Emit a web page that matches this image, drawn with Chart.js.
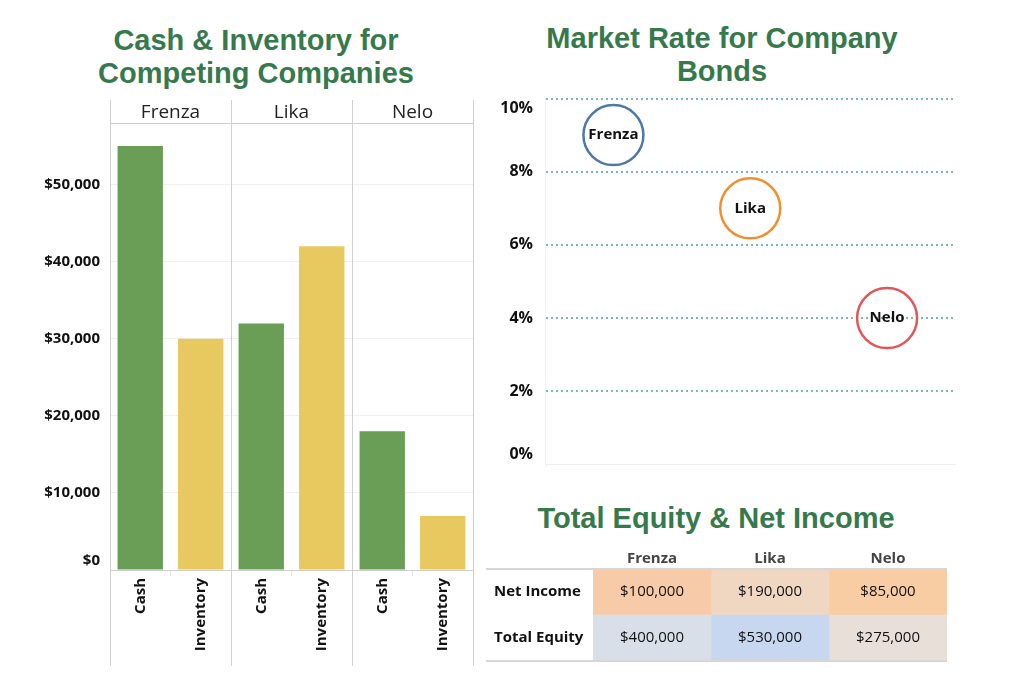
<!DOCTYPE html>
<html>
<head>
<meta charset="utf-8">
<script src="https://cdn.jsdelivr.net/npm/chart.js@4.4.1/dist/chart.umd.min.js"></script>
<style>
  body { margin:0; background:#fff; width:1024px; height:687px; position:relative; overflow:hidden; }
  .title { position:absolute; margin:0; text-align:center; color:#36794c;
           font:bold 29px "Liberation Sans", Arial, sans-serif; line-height:33px; }
  .box { position:absolute; }
</style>
</head>
<body>

<div class="title" style="left:56px; top:24px; width:400px;">Cash &amp; Inventory for<br>Competing Companies</div>
<div class="title" style="left:522px; top:22px; width:400px;">Market Rate for Company<br>Bonds</div>
<div class="title" style="left:516px; top:502px; width:400px;">Total Equity &amp; Net Income</div>

<div class="box" style="left:0; top:100px; width:485px; height:566px;"><canvas id="barChart"></canvas></div>
<div class="box" style="left:490px; top:66px; width:498px; height:431px;"><canvas id="rateChart"></canvas></div>
<div class="box" style="left:486px; top:543px; width:470px; height:122px;"><canvas id="tableChart"></canvas></div>

<script>
// === DATA === //
const companies = ["Frenza", "Lika", "Nelo"];
const measures = ["Cash", "Inventory"];
const cash = [55000, 32000, 18000];
const inventory = [30000, 42000, 7000];
const moneyTicks = [0, 10000, 20000, 30000, 40000, 50000];
const bondRate = [9, 7, 4];              // percent
const rows = ["Net Income", "Total Equity"];
const netIncome = [100000, 190000, 85000];
const totalEquity = [400000, 530000, 275000];

// ---- styles ---- //
const cashColor = "#6a9e57";
const invColor = "#e8c95f";
const bubbleColors = ["#4e79a7", "#f28e2b", "#e15759"];
const niColors = ["#f7cba7", "#f0d7c1", "#f8cda3"];
const teColors = ["#d9dfe9", "#c7d7ef", "#e8dfd9"];

Chart.defaults.font.family = '"Open Sans", sans-serif';
Chart.defaults.color = "#111";
Chart.defaults.animation = false;
Chart.defaults.plugins.legend.display = false;
Chart.defaults.plugins.tooltip.enabled = false;

const money = v => "$" + v.toLocaleString("en-US");

// edge labels sit inside the axis (like the original): pad with an empty line
const nudge = (text, v, min, max) => v === min ? [text, ""] : v === max ? ["", text] : text;

// ---- 1) Cash & Inventory bars ---- //
const dividers = {
  id: "dividers",
  afterDraw(chart) {
    const x = chart.scales.x, ctx = chart.ctx;
    const xs = [x.left];
    for (let i = 0; i < companies.length - 1; i++) {
      xs.push((x.getPixelForValue(i) + x.getPixelForValue(i + 1)) / 2);
    }
    xs.push(x.right);
    ctx.save();
    ctx.strokeStyle = "#d0d0d0";
    ctx.lineWidth = 1;
    xs.forEach(px => {
      const p = Math.round(px) + 0.5;
      ctx.beginPath(); ctx.moveTo(p, 0); ctx.lineTo(p, chart.height); ctx.stroke();
    });
    ctx.restore();
  }
};

new Chart(document.getElementById("barChart"), {
  type: "bar",
  data: {
    labels: companies,
    datasets: [
      { label: measures[0], data: cash, backgroundColor: cashColor, categoryPercentage: 1, barPercentage: 0.75 },
      { label: measures[1], data: inventory, backgroundColor: invColor, categoryPercentage: 1, barPercentage: 0.75 }
    ]
  },
  options: {
    responsive: true,
    maintainAspectRatio: false,
    layout: { padding: { left: 0, right: 12, top: 0, bottom: 0 } },
    scales: {
      x: {
        position: "top",
        grid: { display: false, drawTicks: false },
        border: { color: "#cfcfcf" },
        ticks: { font: { size: 19 }, color: "#222", padding: -1 },
        afterFit(s) { s.height = 23; }
      },
      x2: {
        type: "category",
        position: "bottom",
        labels: companies.flatMap(() => measures),
        offset: true,
        grid: {
          offset: true, drawOnChartArea: false, tickLength: 6,
          color: c => (c.index % 2 === 1 ? "#e4e4e4" : "rgba(0,0,0,0)")
        },
        border: { color: "#cfcfcf" },
        ticks: { minRotation: 90, maxRotation: 90, font: { size: 15, weight: "bold" }, color: "#111", padding: 2 },
        afterFit(s) { s.height = 96; }
      },
      y: {
        min: 0, max: 58000,
        grid: { color: "#f0f0f0", drawTicks: false },
        border: { display: false },
        afterBuildTicks(s) { s.ticks = moneyTicks.map(v => ({ value: v })); },
        ticks: { padding: 10, callback: v => nudge(money(v), v, 0, null),
                 font: { size: 15, weight: "bold" }, color: "#111" },
        afterFit(s) { s.width = 110; }
      }
    }
  },
  plugins: [dividers]
});

// ---- 2) Market rate bubbles ---- //
const bubbleLabels = {
  id: "bubbleLabels",
  afterDatasetsDraw(chart) {
    const ctx = chart.ctx;
    const meta = chart.getDatasetMeta(0);
    ctx.save();
    ctx.font = 'bold 15px "Open Sans", sans-serif';
    ctx.fillStyle = "#111";
    ctx.textAlign = "center";
    ctx.textBaseline = "middle";
    meta.data.forEach((el, i) => ctx.fillText(companies[i], el.x, el.y));
    ctx.restore();
  }
};

// the big points add ~32px of layout overflow on each side; the box is sized for that
new Chart(document.getElementById("rateChart"), {
  type: "scatter",
  data: {
    datasets: [{
      data: companies.map((c, i) => ({ x: c, y: bondRate[i] })),
      pointRadius: 30,
      pointHoverRadius: 30,
      pointBorderWidth: 2.5,
      pointBorderColor: bubbleColors,
      pointBackgroundColor: "rgba(255,255,255,0)"
    }]
  },
  options: {
    responsive: true,
    maintainAspectRatio: false,
    layout: { padding: 0 },
    scales: {
      x: {
        type: "category",
        labels: companies,
        offset: true,
        grid: { display: false },
        border: { color: "#eeeeee" },
        ticks: { display: false },
        afterFit(s) { s.height = 10; }
      },
      y: {
        min: 0, max: 10,
        grid: {
          drawTicks: false, lineWidth: 2,
          color: c => (c.tick && c.tick.value === 0 ? "rgba(0,0,0,0)" : "#7cb8b3")
        },
        border: { color: "#f0f0f0", dash: [2, 3] },
        ticks: { stepSize: 2, padding: 12, callback: v => nudge(v + "%", v, 0, 10),
                 font: { size: 16, weight: "bold" }, color: "#111" },
        afterFit(s) { s.width = 55; }
      }
    }
  },
  plugins: [bubbleLabels]
});

// ---- 3) Total Equity & Net Income table ---- //
const tableValues = [netIncome, totalEquity];

const tableText = {
  id: "tableText",
  afterDatasetsDraw(chart) {
    const ctx = chart.ctx, area = chart.chartArea;
    ctx.save();
    ctx.font = '15px "Open Sans", sans-serif';
    ctx.fillStyle = "#111";
    ctx.textAlign = "center";
    ctx.textBaseline = "middle";
    chart.data.datasets.forEach((ds, j) => {
      chart.getDatasetMeta(j).data.forEach((el, i) => {
        ctx.fillText(money(tableValues[i][j]), (el.x + el.base) / 2, el.y);
      });
    });
    ctx.strokeStyle = "#d6d6d6";
    ctx.lineWidth = 2;
    [area.top, area.bottom].forEach(y => {
      ctx.beginPath(); ctx.moveTo(0, y); ctx.lineTo(area.right, y); ctx.stroke();
    });
    ctx.restore();
  }
};

new Chart(document.getElementById("tableChart"), {
  type: "bar",
  data: {
    labels: rows,
    datasets: companies.map((c, j) => ({
      label: c,
      data: rows.map(() => [j, j + 1]),
      backgroundColor: [niColors[j], teColors[j]],
      borderWidth: 0,
      grouped: false,
      categoryPercentage: 1,
      barPercentage: 1
    }))
  },
  options: {
    indexAxis: "y",
    responsive: true,
    maintainAspectRatio: false,
    layout: { padding: { left: 8, right: 9, top: 0, bottom: 0 } },
    scales: {
      x: {
        min: 0, max: companies.length,
        grid: { display: false },
        border: { display: false },
        ticks: { display: false },
        afterFit(s) { s.height = 4; }
      },
      x2: {
        type: "category",
        position: "top",
        labels: companies,
        offset: true,
        grid: { display: false, drawTicks: false },
        border: { display: false },
        ticks: { font: { size: 15, weight: "bold" }, color: "#444", padding: 1 },
        afterFit(s) { s.height = 26; }
      },
      y: {
        grid: { display: false, drawTicks: false },
        border: { display: false },
        ticks: { crossAlign: "far", font: { size: 15, weight: "bold" }, color: "#111" },
        afterFit(s) { s.width = 99; s.paddingTop = 0; s.paddingBottom = 0; }
      }
    }
  },
  plugins: [tableText]
});
</script>
</body>
</html>
